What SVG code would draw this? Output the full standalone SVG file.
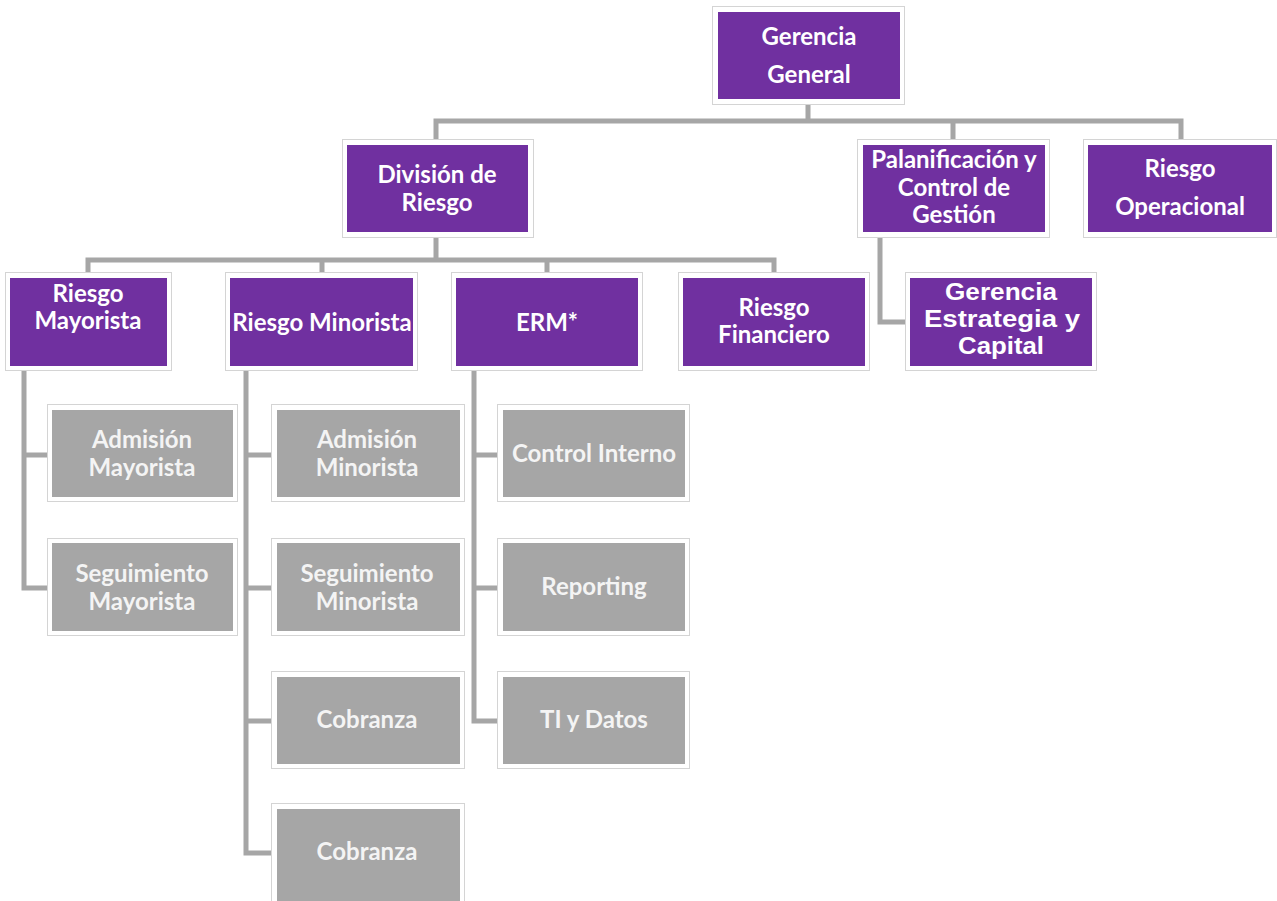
<svg xmlns="http://www.w3.org/2000/svg" width="1277" height="901" viewBox="0 0 1277 901">
<style>
.frame{fill:#ffffff;stroke:#d4d4d4;stroke-width:1}
.p{fill:#7030a0}
.g{fill:#a6a6a6}
text{font-family:Lato,"Open Sans","Liberation Sans",sans-serif;font-weight:bold;font-size:24px;fill:#ffffff;text-anchor:middle}
text.gt{fill:#f4f4f4}
text.ar{font-family:"Liberation Sans",Arial,sans-serif;font-size:23px}
.c{fill:none;stroke:#a6a6a6;stroke-width:5;stroke-linejoin:miter}
</style>
<rect width="1277" height="901" fill="#ffffff"/>
<g id="connectors">
<path class="c" d="M808 104 V121 M436 139 V121 H1181 V139 M953 121 V139"/>
<path class="c" d="M436 237 V260 M88 272 V260 H774 V272 M322 260 V272 M547 260 V272"/>
<path class="c" d="M880 237 V322 H905"/>
<path class="c" d="M24 371 V588 H47 M24 455 H47"/>
<path class="c" d="M246 371 V853 H271 M246 455 H271 M246 588 H271 M246 721 H271"/>
<path class="c" d="M474 371 V721 H497 M474 455 H497 M474 588 H497"/>
</g>
<g id="gerencia-general"><rect class="frame" x="712.5" y="6.5" width="192" height="98"/><rect class="p" x="718" y="12" width="182" height="87"/><text x="809" y="45">Gerencia</text><text x="809" y="83">General</text></g>
<g id="division-riesgo"><rect class="frame" x="342.5" y="139.5" width="191" height="98"/><rect class="p" x="347" y="145" width="181" height="87"/><text x="437" y="183">División de</text><text x="437" y="211">Riesgo</text></g>
<g id="planificacion"><rect class="frame" x="857.5" y="139.5" width="192" height="98"/><rect class="p" x="863" y="145" width="182" height="87"/><text x="954" y="168">Palanificación y</text><text x="954" y="196">Control de</text><text x="954" y="223">Gestión</text></g>
<g id="riesgo-operacional"><rect class="frame" x="1083.5" y="139.5" width="193" height="98"/><rect class="p" x="1088" y="145" width="184" height="87"/><text x="1180" y="177">Riesgo</text><text x="1180" y="215">Operacional</text></g>
<g id="gerencia-estrategia"><rect class="frame" x="905.5" y="272.5" width="191" height="98"/><rect class="p" x="910" y="278" width="182" height="88"/><text class="ar" x="1001" y="300" textLength="112" lengthAdjust="spacingAndGlyphs">Gerencia</text><text class="ar" x="1002" y="327" textLength="156" lengthAdjust="spacingAndGlyphs">Estrategia y</text><text class="ar" x="1001" y="354" textLength="86" lengthAdjust="spacingAndGlyphs">Capital</text></g>
<g id="riesgo-mayorista"><rect class="frame" x="5.5" y="272.5" width="166" height="98"/><rect class="p" x="10" y="278" width="157" height="88"/><text x="88" y="302">Riesgo</text><text x="88" y="329">Mayorista</text></g>
<g id="riesgo-minorista"><rect class="frame" x="225.5" y="272.5" width="192" height="98"/><rect class="p" x="230" y="278" width="183" height="88"/><text x="322" y="331">Riesgo Minorista</text></g>
<g id="erm"><rect class="frame" x="451.5" y="272.5" width="191" height="98"/><rect class="p" x="456" y="278" width="182" height="88"/><text x="547" y="331">ERM*</text></g>
<g id="riesgo-financiero"><rect class="frame" x="678.5" y="272.5" width="191" height="98"/><rect class="p" x="683" y="278" width="182" height="88"/><text x="774" y="316">Riesgo</text><text x="774" y="343">Financiero</text></g>
<g id="admision-mayorista"><rect class="frame" x="47.5" y="404.5" width="190" height="97"/><rect class="g" x="52" y="410" width="181" height="87"/><text class="gt" x="142" y="448">Admisión</text><text class="gt" x="142" y="476">Mayorista</text></g>
<g id="seguimiento-mayorista"><rect class="frame" x="47.5" y="538.5" width="190" height="97"/><rect class="g" x="52" y="543" width="181" height="88"/><text class="gt" x="142" y="582">Seguimiento</text><text class="gt" x="142" y="610">Mayorista</text></g>
<g id="admision-minorista"><rect class="frame" x="271.5" y="404.5" width="193" height="97"/><rect class="g" x="277" y="410" width="183" height="87"/><text class="gt" x="367" y="448">Admisión</text><text class="gt" x="367" y="476">Minorista</text></g>
<g id="seguimiento-minorista"><rect class="frame" x="271.5" y="538.5" width="193" height="97"/><rect class="g" x="277" y="543" width="183" height="88"/><text class="gt" x="367" y="582">Seguimiento</text><text class="gt" x="367" y="610">Minorista</text></g>
<g id="cobranza-1"><rect class="frame" x="271.5" y="671.5" width="193" height="97"/><rect class="g" x="277" y="677" width="183" height="87"/><text class="gt" x="367" y="728">Cobranza</text></g>
<g id="cobranza-2"><rect class="frame" x="271.5" y="803.5" width="193" height="110"/><rect class="g" x="277" y="809" width="183" height="100"/><text class="gt" x="367" y="860">Cobranza</text></g>
<g id="control-interno"><rect class="frame" x="497.5" y="404.5" width="192" height="97"/><rect class="g" x="503" y="410" width="182" height="87"/><text class="gt" x="594" y="462">Control Interno</text></g>
<g id="reporting"><rect class="frame" x="497.5" y="538.5" width="192" height="97"/><rect class="g" x="503" y="543" width="182" height="88"/><text class="gt" x="594" y="595">Reporting</text></g>
<g id="ti-datos"><rect class="frame" x="497.5" y="671.5" width="192" height="97"/><rect class="g" x="503" y="677" width="182" height="87"/><text class="gt" x="594" y="728">TI y Datos</text></g>
</svg>
